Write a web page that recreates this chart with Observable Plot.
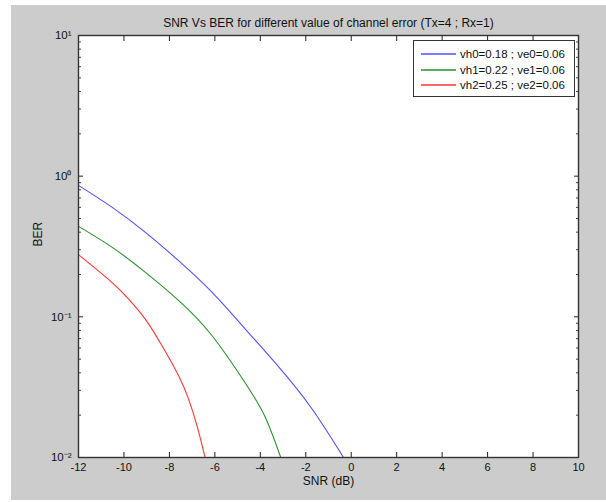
<!DOCTYPE html>
<html><head><meta charset="utf-8">
<script src="https://cdn.jsdelivr.net/npm/d3@7"></script>
<script src="https://cdn.jsdelivr.net/npm/@observablehq/plot@0.6"></script>
<style>
html,body{margin:0;padding:0;background:#fff;width:606px;height:502px;overflow:hidden;}
#bg{position:absolute;left:11px;top:5px;right:0;bottom:2px;background:#cccccc;}
#chart{position:absolute;left:0;top:0;}
#legend{position:absolute;left:413px;top:40px;width:160px;height:55px;background:#fff;border:1px solid #333;
 font-family:"Liberation Sans",Arial,sans-serif;font-size:11.5px;color:#111;}
#legend .row{position:absolute;left:7px;height:14px;display:flex;align-items:center;white-space:nowrap;}
#legend svg{margin-right:3px;}
</style></head>
<body>
<div id="bg"></div>
<div id="chart"></div>
<div id="legend"></div>
<script>
const title = "SNR Vs BER for different value of channel error (Tx=4 ; Rx=1)";
const xLabel = "SNR (dB)";
const yLabel = "BER";
const seriesNames = ["vh0=0.18 ; ve0=0.06", "vh1=0.22 ; ve1=0.06", "vh2=0.25 ; ve2=0.06"];
const seriesColors = ["#5050ff", "#2a8f2a", "#ff3535"];
const xTicks = [-12, -10, -8, -6, -4, -2, 0, 2, 4, 6, 8, 10];
const yTicks = [0.01, 0.1, 1, 10];
const yTickLabels = ["10⁻²", "10⁻¹", "10⁰", "10¹"];

const snr0 = [-12, -10.53, -9.07, -7.60, -6.13, -4.67, -3.20, -1.73, -0.34];
const ber0 = [0.86, 0.602, 0.400, 0.251, 0.150, 0.0822, 0.0442, 0.0222, 0.01];
const snr1 = [-12, -10.53, -9.07, -7.60, -6.13, -4.67, -3.79, -3.10];
const ber1 = [0.44, 0.313, 0.208, 0.131, 0.0737, 0.034, 0.0195, 0.01];
const snr2 = [-12, -10.53, -9.80, -9.07, -8.33, -7.60, -7.16, -6.79, -6.43];
const ber2 = [0.277, 0.176, 0.134, 0.0968, 0.0625, 0.0383, 0.0261, 0.0169, 0.01];

const allSnr = [snr0, snr1, snr2];
const allBer = [ber0, ber1, ber2];
const data = allSnr.flatMap((xs, i) => xs.map((x, j) => ({snr: x, ber: allBer[i][j], s: seriesNames[i]})));

const minorY = [];
[0.01, 0.1, 1].forEach(d => { for (let k = 2; k <= 9; k++) minorY.push(d * k); });

const font = "'Liberation Sans', Arial, sans-serif";
const blank = () => "";

const chart = Plot.plot({
  width: 606, height: 502,
  marginLeft: 78, marginRight: 28, marginTop: 35, marginBottom: 45,
  style: {background: "transparent", fontFamily: font, fontSize: "11px", color: "#111", overflow: "visible"},
  x: {domain: [-12, 10]},
  y: {type: "log", domain: [0.01, 10]},
  color: {domain: seriesNames, range: seriesColors},
  marks: [
    Plot.frame({fill: "white", stroke: null}),
    Plot.line(data, {x: "snr", y: "ber", z: "s", stroke: "s", strokeWidth: 1.1, curve: "natural", clip: true}),
    Plot.axisX({anchor: "bottom", ticks: xTicks, tickSize: -5, tickFormat: blank, label: null, stroke: "#222"}),
    Plot.axisX({anchor: "top", ticks: xTicks, tickSize: -5, tickFormat: blank, label: null, stroke: "#222"}),
    Plot.axisX({anchor: "bottom", ticks: xTicks, tickSize: 0, tickPadding: 6, label: null, fontSize: 11,
      tickFormat: d => String(d)}),
    Plot.axisY({anchor: "left", ticks: yTicks, tickSize: -5, tickFormat: blank, label: null, stroke: "#222"}),
    Plot.axisY({anchor: "right", ticks: yTicks, tickSize: -5, tickFormat: blank, label: null, stroke: "#222"}),
    Plot.axisY({anchor: "left", ticks: minorY, tickSize: -3, tickFormat: blank, label: null, stroke: "#444"}),
    Plot.axisY({anchor: "right", ticks: minorY, tickSize: -3, tickFormat: blank, label: null, stroke: "#444"}),
    Plot.axisY({anchor: "left", ticks: yTicks, tickSize: 0, tickPadding: 7, label: null, fontSize: 11.5,
      tickFormat: d => yTickLabels[yTicks.indexOf(d)]}),
    Plot.frame({stroke: "#333", strokeWidth: 1.4}),
    Plot.text([title], {frameAnchor: "top", dy: -17, text: d => d, fontSize: 12, fill: "#111"}),
    Plot.text([xLabel], {frameAnchor: "bottom", dy: 27, text: d => d, fontSize: 12, fill: "#111"}),
    Plot.text([yLabel], {frameAnchor: "left", dx: -40, rotate: -90, text: d => d, fontSize: 12, fill: "#111"})
  ]
});
document.getElementById("chart").appendChild(chart);

const legend = document.getElementById("legend");
seriesNames.forEach((n, i) => {
  const row = document.createElement("div");
  row.className = "row";
  row.style.top = (6 + i * 15.5) + "px";
  row.innerHTML = `<svg width="36" height="4"><line x1="0" x2="35" y1="2" y2="2" stroke="${seriesColors[i]}" stroke-width="1.3"/></svg><span>${n}</span>`;
  legend.appendChild(row);
});
</script>
</body></html>
